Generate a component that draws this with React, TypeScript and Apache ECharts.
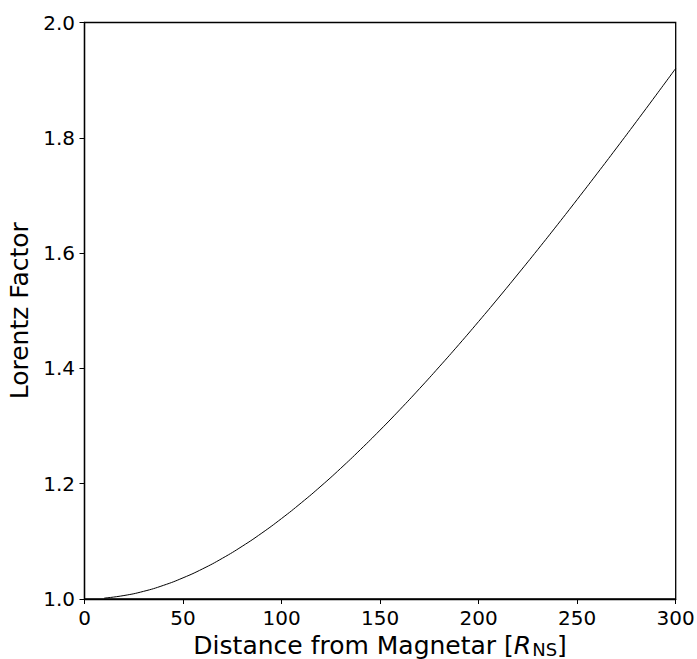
import React, { useEffect, useRef } from "react";
import * as echarts from "echarts";

const distances = [10, 20, 30, 40, 50, 60, 70, 80, 90, 100, 110, 120, 130, 140, 150, 160, 170, 180, 190, 200, 210, 220, 230, 240, 250, 260, 270, 280, 290, 300];
const lorentz = [1.0015, 1.006, 1.0133, 1.0236, 1.0367, 1.0524, 1.0707, 1.0914, 1.1144, 1.1396, 1.1668, 1.1958, 1.2266, 1.2591, 1.293, 1.3283, 1.3649, 1.4027, 1.4415, 1.4814, 1.5221, 1.5638, 1.6061, 1.6492, 1.693, 1.7374, 1.7824, 1.8279, 1.8739, 1.9203];

const FONT = "DejaVu Sans";

export default function App() {
  const ref = useRef<HTMLDivElement>(null);
  useEffect(() => {
    if (!ref.current) return;
    const chart = echarts.init(ref.current, undefined, { renderer: "svg" });
    chart.setOption({
      animation: false,
      backgroundColor: "#fff",
      grid: {
        left: 84.5, top: 22.5, right: 21.3, bottom: 60,
        outerBoundsMode: "none", containLabel: false,
        show: true, borderColor: "#000", borderWidth: 1.3, backgroundColor: "transparent",
      },
      xAxis: {
        type: "value",
        min: 0,
        max: 300,
        interval: 50,
        name: "Distance from Magnetar [{i|R}{s|NS}]",
        nameLocation: "middle",
        nameGap: 26,
        nameTextStyle: {
          fontFamily: FONT, fontSize: 25, color: "#000", verticalAlign: "top",
          rich: {
            i: { fontFamily: FONT, fontSize: 25, fontStyle: "italic", color: "#000" },
            s: { fontFamily: FONT, fontSize: 18, color: "#000", padding: [8, 0, 0, 1] },
          },
        },
        axisLine: { show: true, onZero: false, lineStyle: { color: "#000", width: 1.3 } },
        axisTick: { show: true, inside: false, length: 5, lineStyle: { color: "#000", width: 1 } },
        axisLabel: { fontFamily: FONT, fontSize: 20, color: "#000", margin: 9 },
        splitLine: { show: false },
      },
      yAxis: {
        type: "value",
        min: 1.0,
        max: 2.0,
        interval: 0.2,
        name: "Lorentz Factor",
        nameLocation: "middle",
        nameGap: 48.5,
        nameTextStyle: { fontFamily: FONT, fontSize: 25, color: "#000" },
        axisLine: { show: true, onZero: false, lineStyle: { color: "#000", width: 1.3 } },
        axisTick: { show: true, inside: false, length: 5, lineStyle: { color: "#000", width: 1 } },
        axisLabel: { fontFamily: FONT, fontSize: 20, color: "#000", margin: 9.5, formatter: (v: number) => v.toFixed(1) },
        splitLine: { show: false },
      },
      series: [
        {
          type: "line",
          data: distances.map((d, i) => [d, lorentz[i]]),
          showSymbol: false,
          symbol: "none",
          smooth: true,
          lineStyle: { color: "#000", width: 1 },
        },
      ],
    });
    return () => chart.dispose();
  }, []);
  return <div ref={ref} style={{ position: "fixed", left: 0, top: 0, width: 697, height: 659 }} />;
}
